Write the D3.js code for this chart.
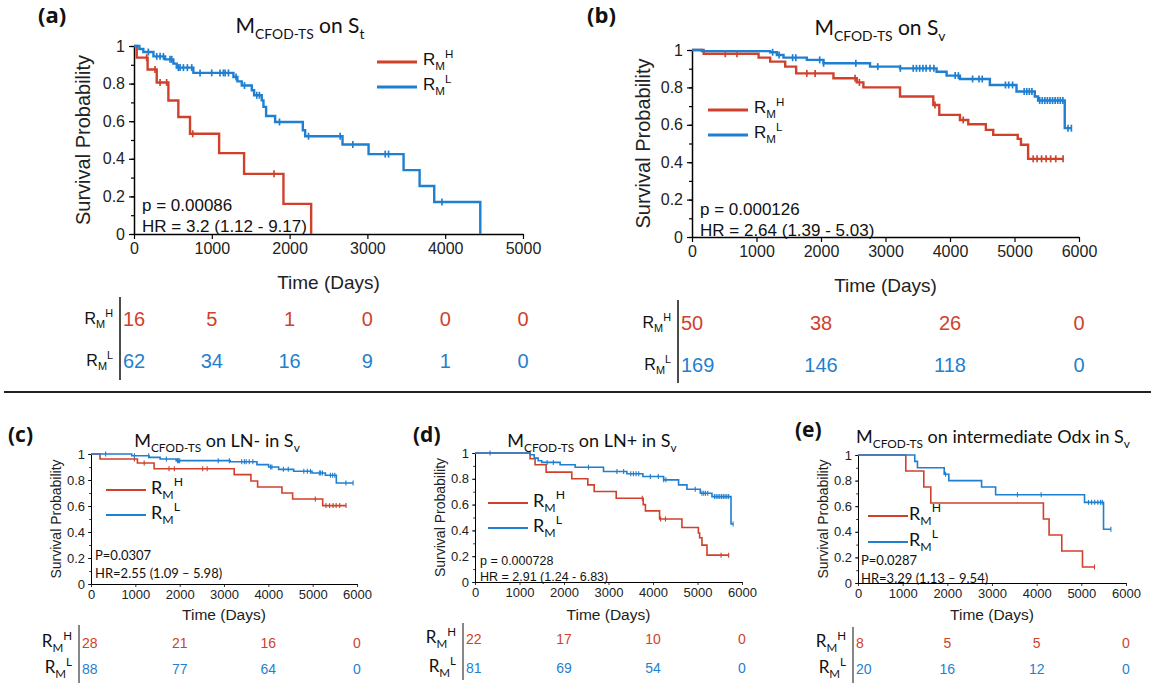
<!DOCTYPE html>
<html>
<head>
<meta charset="utf-8">
<script src="https://cdn.jsdelivr.net/npm/d3@7"></script>
<style>
  body { margin: 0; background: #fff; }
  svg { display: block; }
</style>
</head>
<body>
<svg id="fig" width="1155" height="684"></svg>
<script>
// ---- data ----
// each curve: steps as [time, survival], censor times
const aHighSteps = [[0,1],[35,0.938],[175,0.875],[292,0.806],[442,0.71],[570,0.622],[720,0.533],[1094,0.43],[1415,0.32],[1921,0.16],[2277,0]];
const aHighCensor = [163, 270, 335, 420, 755, 1800];
const aLowSteps = [[0,1],[69,0.984],[120,0.968],[250,0.945],[400,0.929],[506,0.906],[549,0.885],[763,0.857],[1278,0.835],[1329,0.812],[1385,0.79],[1514,0.765],[1544,0.738],[1642,0.711],[1664,0.676],[1698,0.628],[1814,0.596],[2170,0.552],[2200,0.52],[2680,0.476],[3015,0.425],[3465,0.34],[3671,0.255],[3859,0.17],[4451,0]];
const aLowCensor = [184, 292, 335, 378, 463, 485, 570, 592, 635, 686, 742, 849, 999, 1106, 1149, 1171, 1214, 1312, 1420, 1578, 1612, 1870, 2243, 2650, 2813, 3229, 3272, 3958];

const bHighSteps = [[0,1],[180,0.98],[1032,0.959],[1212,0.938],[1445,0.911],[1615,0.875],[2193,0.849],[2554,0.827],[2657,0.8],[3225,0.751],[3741,0.706],[3834,0.653],[4154,0.626],[4283,0.603],[4556,0.573],[4670,0.546],[5050,0.525],[5100,0.493],[5211,0.418]];
const bHighCensor = [516, 697, 1780, 1909, 2528, 2595, 3767, 4205, 5290, 5350, 5420, 5490, 5560, 5640, 5753];
const bLowSteps = [[0,1],[150,0.994],[1212,0.988],[1315,0.973],[1419,0.959],[1780,0.947],[2038,0.929],[2760,0.911],[3225,0.902],[3792,0.884],[3947,0.863],[4154,0.845],[4618,0.813],[5031,0.778],[5315,0.751],[5366,0.73],[5779,0.582]];
const bLowCensor = [1250, 1350, 1560, 1610, 1980, 2040, 2540, 2880, 3230, 3430, 3480, 3530, 3580, 3630, 3690, 3750, 4080, 4130, 4350, 4450, 4500, 4860, 4910, 4970, 5150, 5190, 5230, 5270, 5390, 5430, 5470, 5510, 5550, 5590, 5630, 5670, 5710, 5750, 5830, 5882];

const cHighSteps = [[0,1],[203,0.962],[1047,0.931],[1423,0.887],[3230,0.841],[3607,0.792],[3758,0.746],[4307,0.7],[4548,0.654],[5226,0.603]];
const cHighCensor = [980, 1200, 1760, 1880, 2520, 2620, 5060, 5300, 5380, 5460, 5530, 5610, 5753];
const cLowSteps = [[0,1],[919,0.987],[1310,0.974],[1559,0.962],[1920,0.949],[3140,0.94],[3743,0.918],[4006,0.9],[4232,0.882],[4571,0.867],[4985,0.854],[5286,0.836],[5534,0.777]];
const cLowCensor = [330, 980, 1300, 1700, 1950, 1970, 2000, 2870, 3120, 3400, 3460, 3500, 3570, 3650, 4050, 4080, 4340, 4450, 4800, 4880, 4950, 5150, 5180, 5220, 5400, 5450, 5500, 5750, 5911];

const dHighSteps = [[0,1],[1238,0.955],[1350,0.909],[1598,0.852],[2175,0.8],[2535,0.753],[2678,0.701],[3173,0.649],[3780,0.6],[3830,0.551],[4148,0.488],[4650,0.423],[5020,0.38],[5048,0.343],[5100,0.286],[5213,0.208]];
const dHighCensor = [3760, 4170, 4280, 5530, 5700];
const dLowSteps = [[0,1],[1238,0.987],[1330,0.96],[1420,0.94],[1500,0.927],[1913,0.909],[2250,0.89],[2888,0.857],[3413,0.839],[3773,0.818],[4238,0.792],[4575,0.753],[4763,0.719],[5063,0.688],[5325,0.662],[5753,0.45]];
const dLowCensor = [338, 1620, 1760, 2550, 3190, 3340, 3500, 3560, 3620, 3680, 3940, 4120, 4240, 4290, 4950, 5100, 5140, 5180, 5230, 5380, 5420, 5460, 5500, 5540, 5580, 5620, 5660, 5700, 5800];

const eHighSteps = [[0,1],[1070,0.875],[1473,0.75],[1630,0.625],[4151,0.5],[4278,0.375],[4562,0.25],[5026,0.125]];
const eHighCensor = [5295];
const eLowSteps = [[0,1],[1271,0.95],[1331,0.9],[1930,0.85],[2034,0.8],[2767,0.75],[3081,0.69],[5071,0.63],[5497,0.42]];
const eLowCensor = [1960, 3570, 4100, 5160, 5230, 5300, 5370, 5430, 5470, 5662];

// numbers at risk
const riskTimes5 = [0, 1000, 2000, 3000, 4000, 5000];
const riskTimes6 = [0, 2000, 4000, 6000];
const aRiskHigh = [16, 5, 1, 0, 0, 0];
const aRiskLow = [62, 34, 16, 9, 1, 0];
const bRiskHigh = [50, 38, 26, 0];
const bRiskLow = [169, 146, 118, 0];
const cRiskHigh = [28, 21, 16, 0];
const cRiskLow = [88, 77, 64, 0];
const dRiskHigh = [22, 17, 10, 0];
const dRiskLow = [81, 69, 54, 0];
const eRiskHigh = [8, 5, 5, 0];
const eRiskLow = [20, 16, 12, 0];

// tick values
const xTicks5 = [0, 1000, 2000, 3000, 4000, 5000];
const xTicks6 = [0, 1000, 2000, 3000, 4000, 5000, 6000];
const yTicks = [0, 0.2, 0.4, 0.6, 0.8, 1];
const yMinor = d3.range(0, 1.01, 0.1);

// ---- look ----
const RED = "#d0412c";
const BLUE = "#1f7fd0";
const ARIAL = "'Liberation Sans', Arial, sans-serif";
const CAL = "Lato, 'Open Sans', sans-serif";

const svg = d3.select("#fig");

function rich(sel, x, y, parts, size, family, anchor, fill) {
  const t = sel.append("text")
    .attr("x", x).attr("y", y)
    .attr("font-size", size)
    .attr("font-family", family)
    .attr("text-anchor", anchor || "start")
    .attr("fill", fill || "#111");
  let cur = 0;
  parts.forEach(p => {
    const off = p.sub ? size * 0.28 : p.sup ? -size * 0.42 : 0;
    const ts = t.append("tspan").attr("dy", off - cur).text(p.t);
    if (p.sub || p.sup) ts.attr("font-size", size * (p.k || 0.68));
    cur = off;
  });
  return t;
}

const RMH = [{t: "R"}, {t: "M", sub: true}, {t: "H", sup: true}];
const RML = [{t: "R"}, {t: "M", sub: true}, {t: "L", sup: true}];

function survAt(steps, t) {
  let s = 1;
  steps.forEach(d => { if (d[0] <= t) s = d[1]; });
  return s;
}

function drawPanel(p) {
  const g = svg.append("g");
  const x = d3.scaleLinear().domain([0, p.xMax]).range([p.x0, p.x1]);
  const y = d3.scaleLinear().domain([0, 1]).range([p.yBot, p.yTop]);

  // panel letter
  g.append("text").attr("x", p.letter[0]).attr("y", p.letter[1])
    .attr("font-family", "'Open Sans', sans-serif").attr("font-weight", "bold")
    .attr("font-size", p.letterSize).attr("fill", "#111").text(p.name);

  // title
  const ts = p.titleSize;
  rich(g, p.titleX, p.titleY, [{t: "M"}, {t: "CFOD-TS", sub: true, k: 0.66}, {t: p.titleMid}, {t: p.titleSub, sub: true, k: 0.66}], ts, CAL, "middle");

  // axes
  const ax = g.append("g").attr("transform", `translate(0,${p.yBot})`)
    .call(d3.axisBottom(x).tickValues(p.xTicks).tickSize(p.tick).tickSizeOuter(0).tickPadding(p.tickPad).tickFormat(d3.format("d")));
  const ay = g.append("g").attr("transform", `translate(${p.x0},0)`)
    .call(d3.axisLeft(y).tickValues(yTicks).tickSize(p.tick).tickSizeOuter(0).tickPadding(p.tickPad).tickFormat(d => d === 0 || d === 1 ? d : d3.format(".1f")(d)));
  g.append("g").attr("transform", `translate(${p.x0},0)`)
    .call(d3.axisLeft(y).tickValues(yMinor).tickSize(p.tick * 0.6).tickFormat(""))
    .select(".domain").remove();
  [ax, ay].forEach(a => {
    a.selectAll("text").attr("font-family", ARIAL).attr("font-size", p.tickFont).attr("fill", "#222");
    a.select(".domain").attr("stroke-width", p.axisW);
  });
  g.selectAll(".tick line").attr("stroke-width", p.axisW * 0.8);

  // axis labels
  g.append("text").attr("transform", `translate(${p.yLabX},${(p.yTop + p.yBot) / 2}) rotate(-90)`)
    .attr("text-anchor", "middle").attr("font-family", ARIAL).attr("font-size", p.yLabSize)
    .attr("fill", "#222").text("Survival Probability");
  g.append("text").attr("x", (p.x0 + p.x1) / 2).attr("y", p.xLabY)
    .attr("text-anchor", "middle").attr("font-family", ARIAL).attr("font-size", p.xLabSize)
    .attr("fill", "#222").text("Time (Days)");

  // curves
  const line = d3.line().x(d => x(d[0])).y(d => y(d[1])).curve(d3.curveStepAfter);
  p.curves.forEach(c => {
    const pts = c.steps.slice();
    const end = d3.max([c.steps[c.steps.length - 1][0], d3.max(c.censor) || 0]);
    pts.push([end, survAt(c.steps, end)]);
    g.append("path").attr("d", line(pts)).attr("fill", "none")
      .attr("stroke", c.color).attr("stroke-width", p.curveW);
    g.selectAll(null).data(c.censor).join("line")
      .attr("x1", d => x(d)).attr("x2", d => x(d))
      .attr("y1", d => y(survAt(c.steps, d)) - p.censorH)
      .attr("y2", d => y(survAt(c.steps, d)) + p.censorH)
      .attr("stroke", c.color).attr("stroke-width", p.curveW * 0.7);
  });

  // legend
  p.curves.forEach((c, i) => {
    const ly = p.legY + i * p.legGap;
    g.append("line").attr("x1", p.legX).attr("x2", p.legX + p.legLen)
      .attr("y1", ly).attr("y2", ly).attr("stroke", c.color).attr("stroke-width", p.curveW + 0.5);
    rich(g, p.legX + p.legLen + p.legPad, ly + p.legSize * 0.2, i ? RML : RMH, p.legSize, p.legFont, "start");
  });

  // statistics
  g.append("text").attr("x", p.statX).attr("y", p.statY).attr("font-family", p.statFamily)
    .attr("font-size", p.statSize).attr("fill", "#111").text(p.pText);
  g.append("text").attr("x", p.statX).attr("y", p.statY + p.statGap).attr("font-family", p.statFamily)
    .attr("font-size", p.statSize).attr("fill", "#111").text(p.hrText);

  // numbers at risk
  const rows = [{v: p.riskHigh, lab: RMH, color: RED}, {v: p.riskLow, lab: RML, color: BLUE}];
  g.append("line").attr("x1", p.barX).attr("x2", p.barX).attr("y1", p.barY0).attr("y2", p.barY1)
    .attr("stroke", "#111").attr("stroke-width", p.axisW);
  rows.forEach((r, i) => {
    const ry = p.riskY[i];
    rich(g, p.barX - 7, ry, r.lab, p.riskLabSize, p.riskLabFont, "end");
    g.selectAll(null).data(r.v).join("text")
      .attr("x", (d, j) => j === 0 ? p.barX + 3 : x(p.riskTimes[j]))
      .attr("y", ry + p.riskSize * 0.1)
      .attr("text-anchor", (d, j) => j === 0 ? "start" : "middle")
      .attr("font-family", ARIAL).attr("font-size", p.riskSize).attr("fill", r.color)
      .text(d => d);
  });
}

const topStyle = {
  tick: 5, tickPad: 4, tickFont: 16, axisW: 1.5, curveW: 2.4, censorH: 3.5,
  yLabSize: 20, xLabSize: 19, titleSize: 21, letterSize: 22, legSize: 17, legFont: ARIAL, legLen: 40, legPad: 6,
  statFamily: ARIAL, statSize: 17, statGap: 21, riskSize: 20, riskLabSize: 16, riskLabFont: ARIAL
};
const bottomStyle = {
  tick: 3, tickPad: 3, tickFont: 13, axisW: 1, curveW: 1.6, censorH: 2.5,
  yLabSize: 14, xLabSize: 15.5, titleSize: 18, letterSize: 21, legSize: 18, legFont: CAL, legLen: 40, legPad: 5,
  statFamily: CAL, statSize: 13, statGap: 18, riskSize: 14, riskLabSize: 17, riskLabFont: CAL
};

const panels = [
  Object.assign({}, topStyle, {
    name: "(a)", letter: [38, 23], titleX: 300, titleY: 33, titleMid: " on S", titleSub: "t",
    x0: 134, x1: 523, xMax: 5000, yTop: 46, yBot: 234, xTicks: xTicks5,
    yLabX: 90, xLabY: 289,
    curves: [{steps: aHighSteps, censor: aHighCensor, color: RED}, {steps: aLowSteps, censor: aLowCensor, color: BLUE}],
    legX: 377, legY: 62, legGap: 25,
    statX: 142, statY: 211, pText: "p = 0.00086", hrText: "HR = 3.2 (1.12 - 9.17)",
    riskTimes: riskTimes5, riskHigh: aRiskHigh, riskLow: aRiskLow,
    barX: 120, barY0: 297, barY1: 380, riskY: [324, 366]
  }),
  Object.assign({}, topStyle, {
    name: "(b)", letter: [587, 23], titleX: 880, titleY: 35, titleMid: " on S", titleSub: "v",
    x0: 692, x1: 1079, xMax: 6000, yTop: 50, yBot: 237, xTicks: xTicks6,
    yLabX: 650, xLabY: 292,
    curves: [{steps: bHighSteps, censor: bHighCensor, color: RED}, {steps: bLowSteps, censor: bLowCensor, color: BLUE}],
    legX: 708, legY: 110, legGap: 25,
    statX: 700, statY: 215, pText: "p = 0.000126", hrText: "HR = 2.64 (1.39 - 5.03)",
    riskTimes: riskTimes6, riskHigh: bRiskHigh, riskLow: bRiskLow,
    barX: 678, barY0: 300, barY1: 383, riskY: [328, 370]
  }),
  Object.assign({}, bottomStyle, {
    name: "(c)", letter: [8, 442], titleX: 217, titleY: 447, titleMid: " on LN- in S", titleSub: "v",
    x0: 91, x1: 357, xMax: 6000, yTop: 454, yBot: 584, xTicks: xTicks6,
    yLabX: 61, xLabY: 620,
    curves: [{steps: cHighSteps, censor: cHighCensor, color: RED}, {steps: cLowSteps, censor: cLowCensor, color: BLUE}],
    legX: 106, legY: 490, legGap: 25,
    statX: 95, statY: 560, pText: "P=0.0307", hrText: "HR=2.55 (1.09 \u2013 5.98)",
    riskTimes: riskTimes6, riskHigh: cRiskHigh, riskLow: cRiskLow,
    barX: 79, barY0: 625, barY1: 683, riskY: [647, 673]
  }),
  Object.assign({}, bottomStyle, {
    name: "(d)", letter: [413, 442], titleX: 592, titleY: 447, titleMid: " on LN+ in S", titleSub: "v",
    x0: 475, x1: 742, xMax: 6000, yTop: 453, yBot: 582, xTicks: xTicks6,
    yLabX: 445, xLabY: 620,
    curves: [{steps: dHighSteps, censor: dHighCensor, color: RED}, {steps: dLowSteps, censor: dLowCensor, color: BLUE}],
    legX: 488, legY: 503, legGap: 25,
    statX: 480, statY: 565, statGap: 16, statFamily: ARIAL, statSize: 12.5, pText: "p = 0.000728", hrText: "HR = 2.91 (1.24 - 6.83)",
    riskTimes: riskTimes6, riskHigh: dRiskHigh, riskLow: dRiskLow,
    barX: 463, barY0: 623, barY1: 680, riskY: [643, 672]
  }),
  Object.assign({}, bottomStyle, {
    name: "(e)", letter: [795, 437], titleX: 993, titleY: 443, titleMid: " on intermediate Odx in S", titleSub: "v",
    x0: 858, x1: 1126, xMax: 6000, yTop: 455, yBot: 583, xTicks: xTicks6,
    yLabX: 828, xLabY: 620,
    curves: [{steps: eHighSteps, censor: eHighCensor, color: RED}, {steps: eLowSteps, censor: eLowCensor, color: BLUE}],
    legX: 868, legY: 516, legGap: 26, legPad: 1,
    statX: 861, statY: 565, pText: "P=0.0287", hrText: "HR=3.29 (1.13 \u2013 9.54)",
    riskTimes: riskTimes6, riskHigh: eRiskHigh, riskLow: eRiskLow,
    barX: 853, barY0: 627, barY1: 683, riskY: [647, 673]
  })
];

panels.forEach(drawPanel);

// separator between the two rows
svg.append("line").attr("x1", 4).attr("x2", 1151).attr("y1", 392).attr("y2", 392)
  .attr("stroke", "#222").attr("stroke-width", 2);
</script>
</body>
</html>
